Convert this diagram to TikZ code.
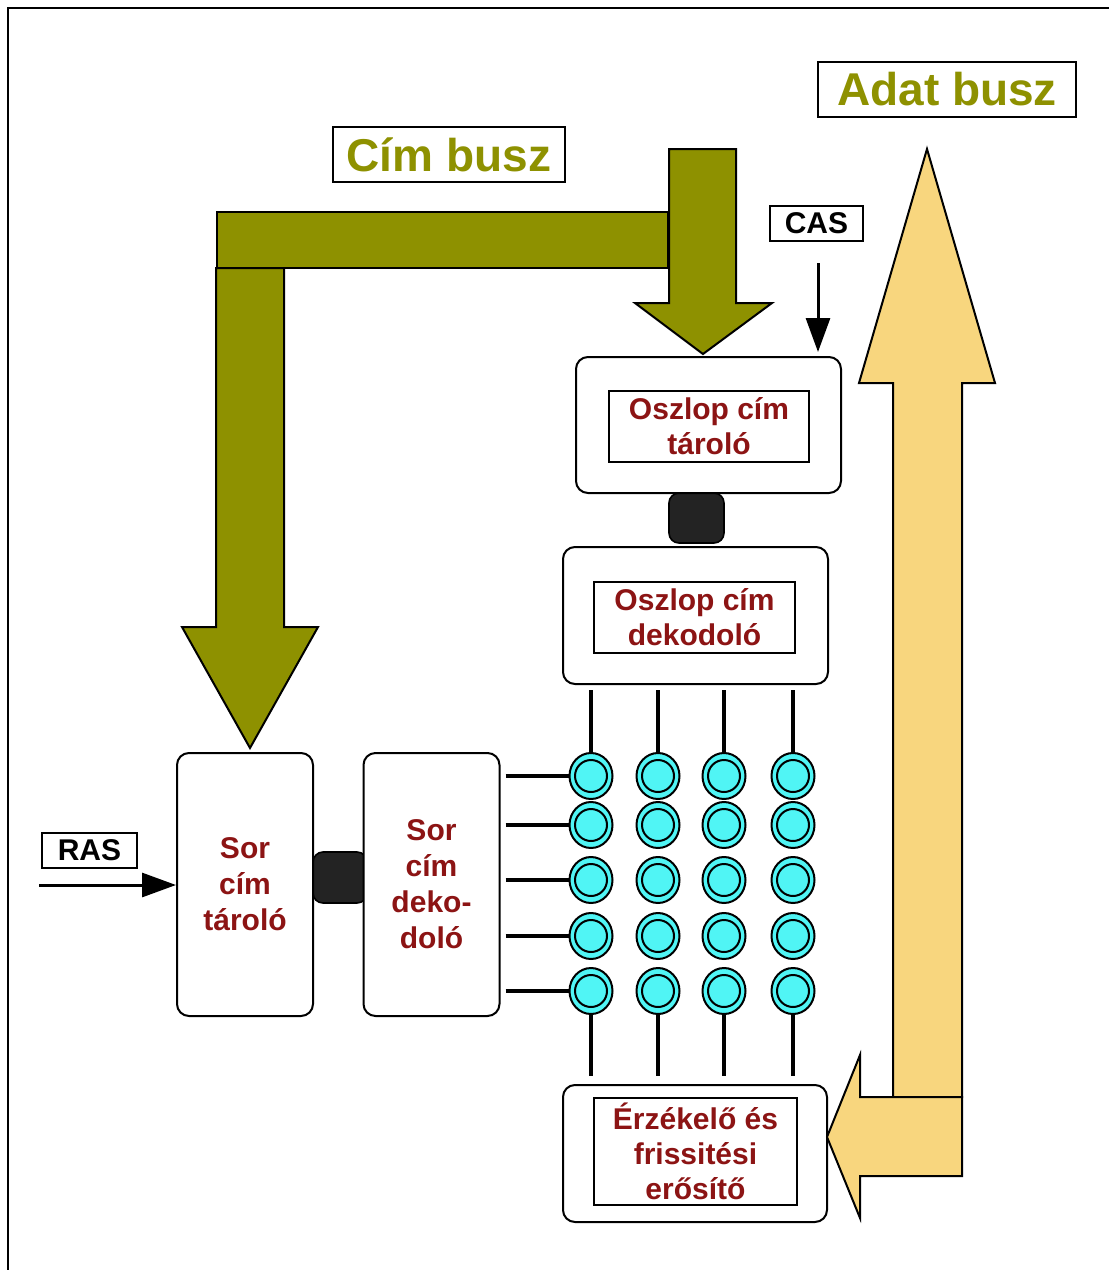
\documentclass[tikz,border=0pt]{standalone}
\usepackage{fontspec}
\setmainfont{Liberation Sans}
\usetikzlibrary{shapes.geometric,arrows.meta,calc}
\definecolor{busolive}{RGB}{142,145,0}
\definecolor{busyellow}{RGB}{248,214,126}
\definecolor{cellcyan}{RGB}{80,245,245}
\definecolor{txtred}{RGB}{140,20,20}
\definecolor{joinblack}{RGB}{35,35,35}
\begin{document}
\begin{tikzpicture}[x=0.5pt,y=-0.5pt,
    box/.style={draw,line width=1pt,rounded corners=6pt,fill=white,inner sep=0pt},
    inbox/.style={draw,line width=1pt,inner sep=0pt,text=txtred,align=center,
      font=\fontsize{15}{17.5}\selectfont\bfseries},
    sorbox/.style={box,text=txtred,align=center,font=\fontsize{15}{18}\selectfont\bfseries,
      minimum width=68pt,minimum height=131.5pt},
    linkblock/.style={draw,fill=joinblack,rounded corners=5pt,line width=0.8pt},
    buslabel/.style={draw,line width=1pt,fill=white,text=busolive,inner sep=0pt,
      minimum height=27.5pt,font=\fontsize{23}{26}\selectfont\bfseries},
    siglabel/.style={draw,line width=1pt,fill=white,inner sep=0pt,
      minimum height=17.5pt,font=\fontsize{15}{17}\selectfont\bfseries},
    sig/.style={line width=1.5pt,-{Triangle[length=17pt,width=12pt]}},
    cimbus/.style={fill=busolive,draw=black,line width=1pt},
    adatbus/.style={fill=busyellow,draw=black,line width=1pt},
    cell/.style={ellipse,draw,fill=cellcyan,line width=1pt,inner sep=0pt,
      minimum width=21.5pt,minimum height=23pt},
    cellcore/.style={circle,draw,fill=cellcyan,line width=1pt,inner sep=0pt,minimum size=16pt},
    wire/.style={line width=1.8pt}]
  \useasboundingbox (0,0) rectangle (1109,1270);
  % frame
  \draw[line width=1pt] (8,1270) -- (8,8) -- (1109,8);

  % labels
  \node[buslabel,minimum width=116pt] (cimlbl) at (449,154.5) {Cím busz};
  \node[buslabel,minimum width=129pt] (adatlbl) at (947,89.5) {Adat busz};
  \node[siglabel,minimum width=46.5pt] (cas) at (816.5,223.5) {CAS};
  \node[siglabel,minimum width=47.5pt] (ras) at (89.5,850) {RAS};

  % links between the blocks
  \node[linkblock,minimum width=27.5pt,minimum height=25pt] (ocjoin) at (696.5,518) {};
  \node[linkblock,minimum width=27pt,minimum height=25.5pt] (srjoin) at (340,877.5) {};

  % column side
  \node[box,minimum width=132.5pt,minimum height=68pt] (octaro) at (708.5,425) {};
  \node[inbox,minimum width=100pt,minimum height=35.5pt] (octarotxt) at (709,426.5) {Oszlop cím\\tároló};
  \node[box,minimum width=132.5pt,minimum height=68.5pt] (ocdek) at (695.5,615.5) {};
  \node[inbox,minimum width=100.5pt,minimum height=35.5pt] (ocdektxt) at (694.5,617.5) {Oszlop cím\\dekodoló};

  % row side
  \node[sorbox] (srtaro) at (245,884.5) {Sor\\cím\\tároló};
  \node[sorbox] (srdek) at (431.5,884.5) {Sor\\cím\\deko-\\doló};

  % sense amplifier
  \node[box,minimum width=132pt,minimum height=68.5pt] (erz) at (695,1153.5) {};
  \node[inbox,minimum width=101.5pt,minimum height=53.5pt] (erztxt) at (695.5,1151.5) {Érzékelő és\\frissitési\\erősítő};

  % memory cells
  \foreach \x [count=\j] in {591,658,724,793}
    \foreach \y [count=\i] in {776,825,880,936,991} {
      \node[cell] (c-\i-\j) at (\x,\y) {};
      \node[cellcore] at (c-\i-\j.center) {};
    }
  \foreach \j in {1,...,4} {
    \draw[wire] ($(ocdek.south -| c-1-\j)+(0,5)$) -- (c-1-\j.north);
    \draw[wire] (c-5-\j.south) -- ($(erz.north -| c-5-\j)+(0,-8)$);
  }
  \foreach \i in {1,...,5}
    \draw[wire] ($(srdek.east |- c-\i-1)+(5,0)$) -- (c-\i-1.west);

  % CAS / RAS
  \coordinate (casin) at (818,263);
  \coordinate (rasin) at (39,885);
  \draw[sig] (casin) -- ($(octaro.north -| casin)+(0,-4)$);
  \draw[sig] (rasin) -- (srtaro.west |- rasin);

  % address bus
  \filldraw[cimbus] (217,212) rectangle (668,268);
  \filldraw[cimbus] (216,268) -- (216,627) -- (182,627) -- (250,748) -- (318,627) -- (284,627) -- (284,268) -- cycle;
  \filldraw[cimbus] (669,149) -- (736,149) -- (736,303) -- (772,303) -- (703,354) -- (635,303) -- (669,303) -- cycle;

  % data bus
  \filldraw[adatbus] (893,1097) -- (893,383) -- (859,383) -- (927,149) -- (995,383) -- (962,383) -- (962,1097) -- cycle;
  \filldraw[adatbus] (962,1097) -- (860,1097) -- (860,1055) -- (827,1137) -- (860,1218) -- (860,1176) -- (962,1176) -- cycle;
\end{tikzpicture}
\end{document}
